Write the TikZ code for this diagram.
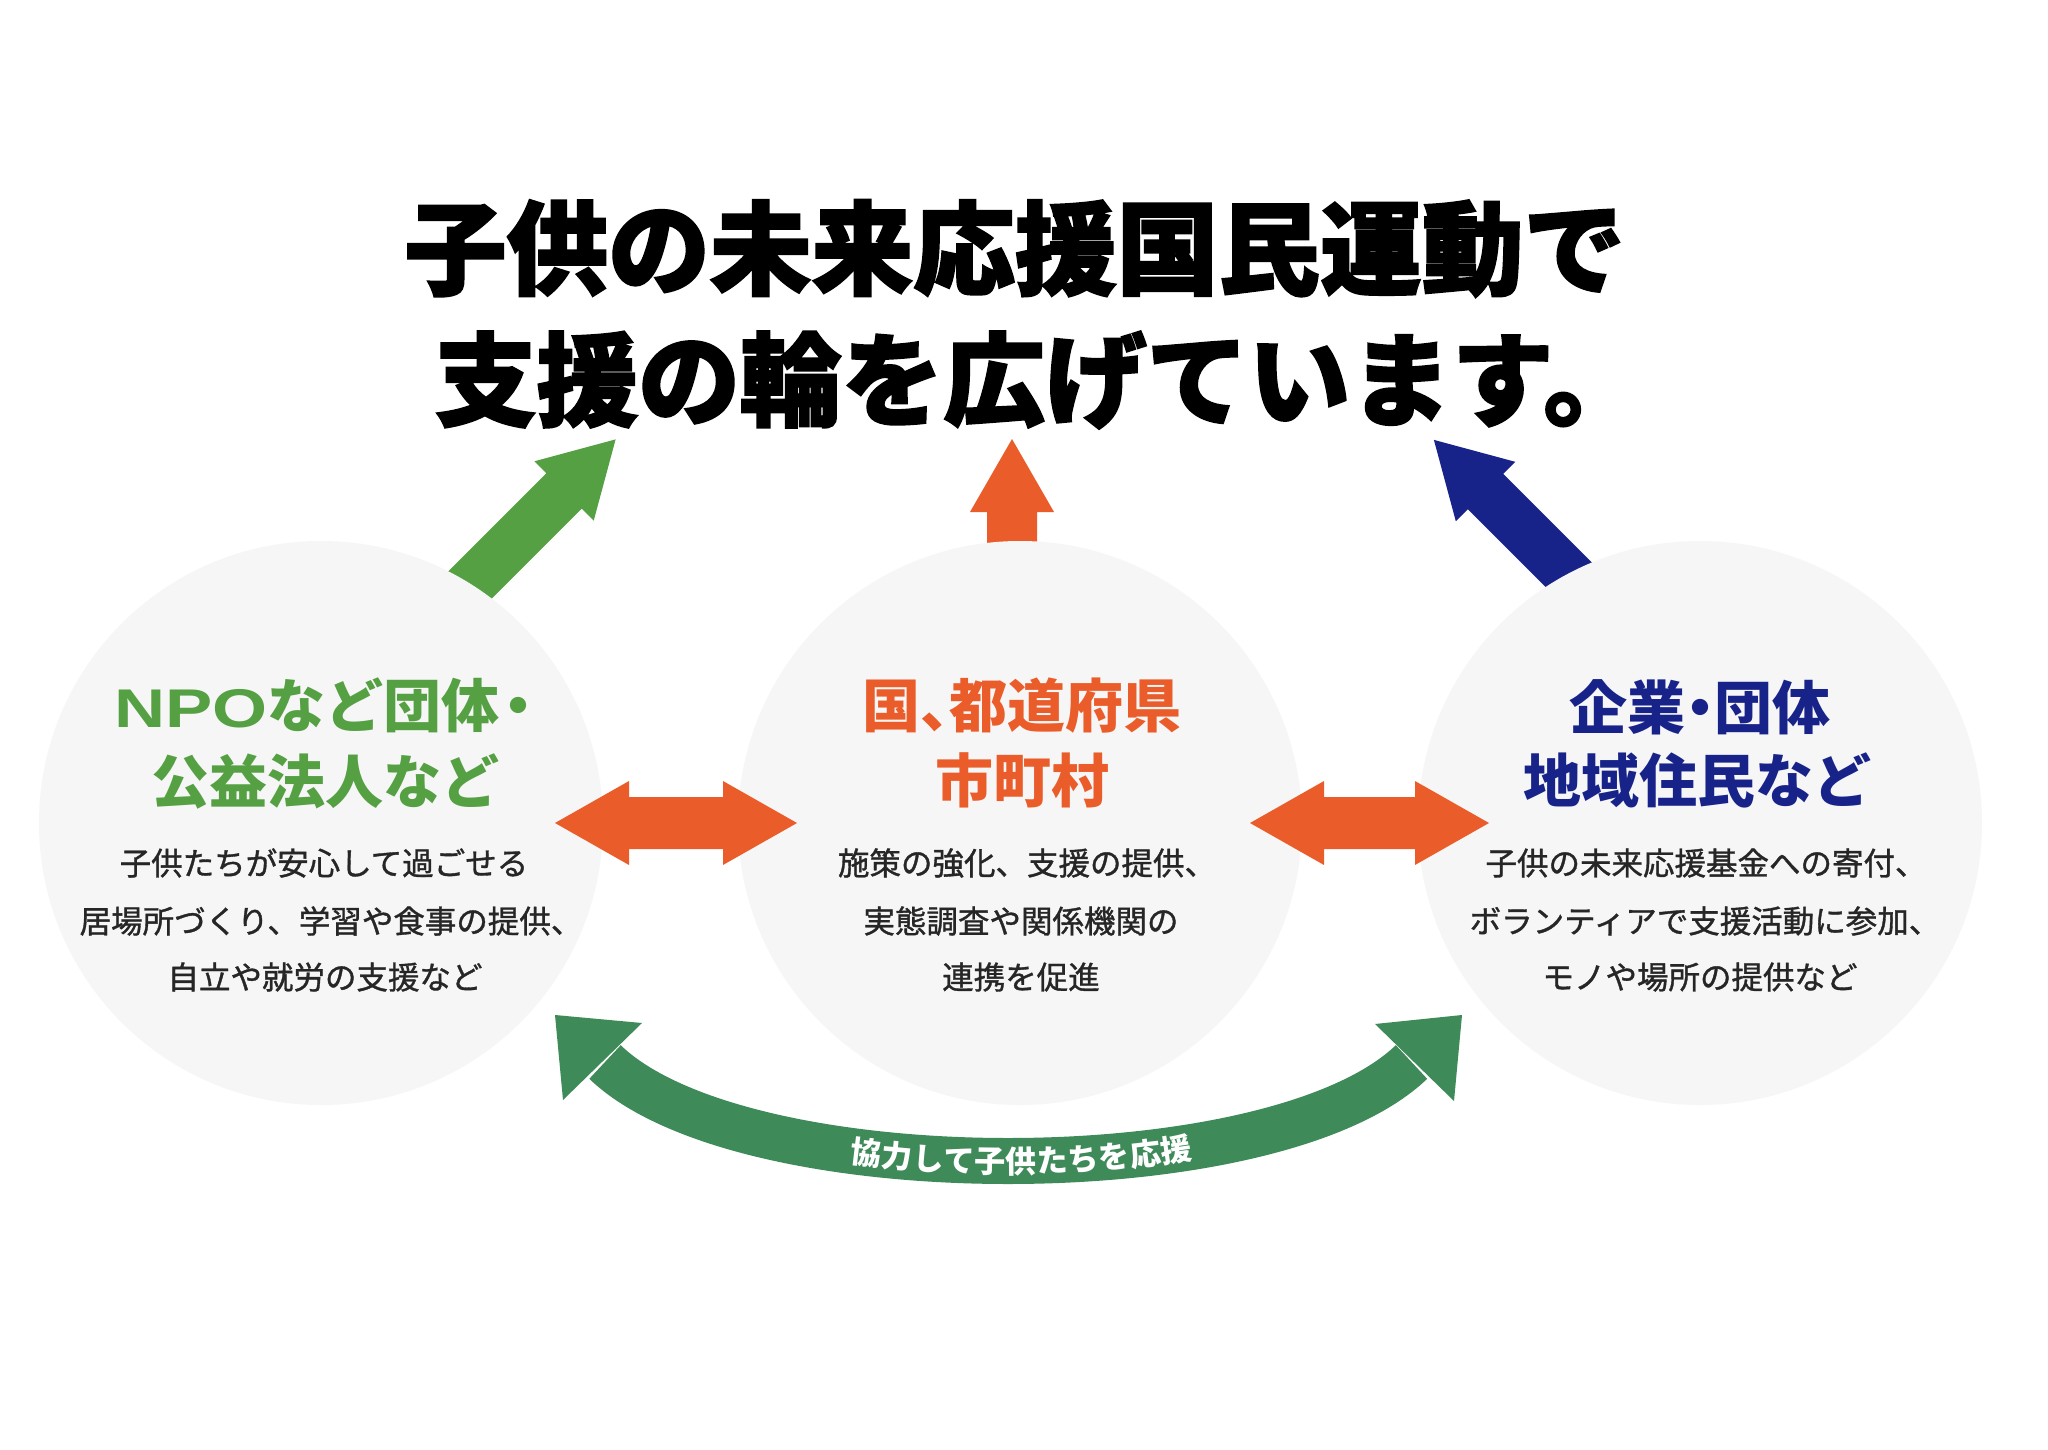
\documentclass[tikz,border=0pt]{standalone}
\usepackage{fontspec}
\setmainfont{Noto Sans CJK JP}
\newfontfamily\titlef{Noto Sans CJK JP}[BoldFeatures={FakeBold=2}]
\newfontfamily\bodyf{Noto Sans CJK JP}[FakeBold=1.1]
\newfontfamily\latinf{Liberation Sans}
\usetikzlibrary{decorations.text}
\definecolor{npogreen}{HTML}{56A044}
\definecolor{govorange}{HTML}{EA5D2A}
\definecolor{corpnavy}{HTML}{18238A}
\definecolor{arcgreen}{HTML}{3E8A59}
\definecolor{circbg}{HTML}{F6F6F6}
\definecolor{bodygray}{HTML}{262626}
\newcommand\blockarrow[4]{% colour, base point, angle, tail length
  \fill[#1,shift={#2},rotate=#3] (-#4,-25) -- (0,-25) -- (0,-42) -- (73,0) -- (0,42) -- (0,25) -- (-#4,25) -- cycle;}
\newcommand\dblarrow[3]{% x1, x2, y
  \fill[govorange] (#1,#3) -- (#1+74,#3-42) -- (#1+74,#3-26) -- (#2-74,#3-26) -- (#2-74,#3-42) -- (#2,#3)
    -- (#2-74,#3+42) -- (#2-74,#3+26) -- (#1+74,#3+26) -- (#1+74,#3+42) -- cycle;}
\begin{document}
\begin{tikzpicture}[x=1pt,y=-1pt,
  ring/.style={circle, fill=circbg, minimum size=564pt, inner sep=0pt},
  titletext/.style={font=\titlef\bfseries\fontsize{101.7}{110}\selectfont, inner sep=0pt},
  headtext/.style={font=\bfseries\fontsize{58}{60}\selectfont, inner sep=0pt},
  bodytext/.style={font=\bodyf\fontsize{31.5}{34}\selectfont, text=bodygray, inner sep=0pt}]
\useasboundingbox (0,0) rectangle (2048,1450);
\fill[white] (0,0) rectangle (2048,1450);

% title
\node[titletext] (t1) at (1015,248.5) {子供の未来応援国民運動で};
\node[titletext] (t2) at (1040,380) {支援の輪を広げています。};

% arrows toward the title (behind the circles)
\coordinate (gB) at (564,491);
\coordinate (oB) at (1012,512);
\coordinate (nB) at (1485.5,491.5);
\blockarrow{npogreen}{(gB)}{45}{160}
\blockarrow{govorange}{(oB)}{90}{70}
\blockarrow{corpnavy}{(nB)}{135}{150}

% circles
\node[ring] (npo) at (321,823) {};
\node[ring] (gov) at (1020,823) {};
\node[ring] (corp) at (1700,823) {};

% left circle texts
\node[headtext, text=npogreen] (npoh1) at (331,705) {\scalebox{1.22}[0.94]{\latinf\bfseries NPO}など団体\hspace{-0.18em}・};
\node[headtext, text=npogreen] (npoh2) at (325,782) {公益法人など};
\node[bodytext] (npob1) at (324,863) {子供たちが安心して過ごせる};
\node[bodytext] (npob2) at (331,921) {居場所づくり、学習や食事の提供、};
\node[bodytext] (npob3) at (325,977) {自立や就労の支援など};

% middle circle texts
\node[headtext, text=govorange] (govh1) at (1022,706) {国\makebox[0.5em][l]{、}都道府県};
\node[headtext, text=govorange] (govh2) at (1022,780) {市町村};
\node[bodytext] (govb1) at (1027,863) {施策の強化、支援の提供、};
\node[bodytext] (govb2) at (1021,921) {実態調査や関係機関の};
\node[bodytext] (govb3) at (1021,977) {連携を促進};

% right circle texts
\node[headtext, text=corpnavy] (corph1) at (1700,707) {企業\makebox[0.5em][c]{・}団体};
\node[headtext, text=corpnavy] (corph2) at (1697,780) {地域住民など};
\node[bodytext] (corpb1) at (1706,863) {子供の未来応援基金への寄付、};
\node[bodytext] (corpb2) at (1705,921) {ボランティアで支援活動に参加、};
\node[bodytext] (corpb3) at (1700,977) {モノや場所の提供など};

% double arrows between circles
\dblarrow{555}{797}{823}
\dblarrow{1250}{1489}{823}

% curved double arrow
\coordinate (aL) at (605,1062);
\coordinate (aR) at (1411.5,1062);
\draw[arcgreen, line width=46pt] (aL) .. controls (742,1194) and (1274,1194) .. (aR);
\fill[arcgreen] (555,1015) -- (563,1100) -- (642,1023) -- cycle;
\fill[arcgreen] (1462,1015) -- (1454,1101) -- (1375,1024) -- cycle;
\path[decorate, decoration={text along path,
   text={|\bfseries\fontsize{31}{31}\selectfont|協力して子供たちを応援},
   text color=white, text align={left indent=26pt, align=center}, raise=-12pt}]
   (aL) .. controls (742,1194) and (1274,1194) .. (aR);
\end{tikzpicture}
\end{document}
